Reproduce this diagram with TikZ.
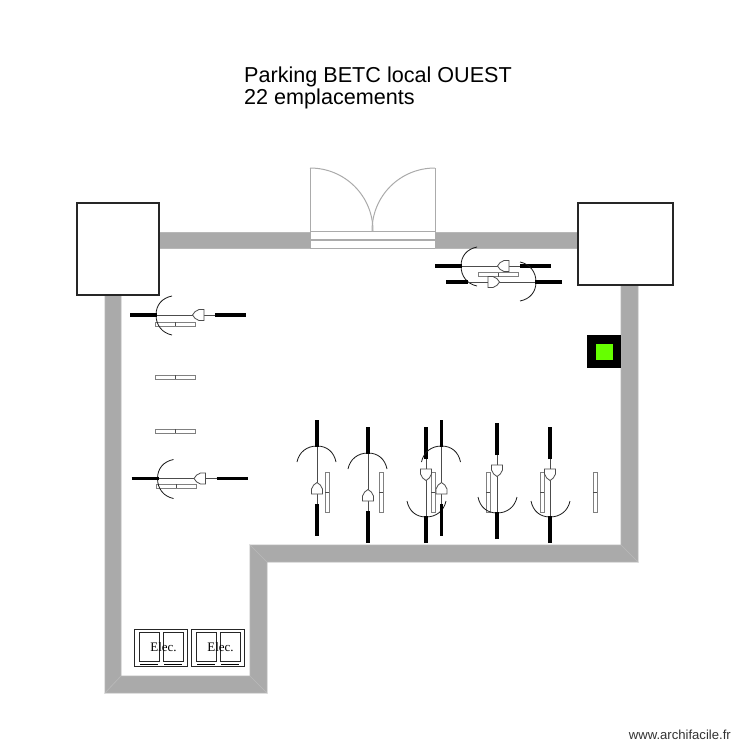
\documentclass[tikz,border=0pt]{standalone}
\usepackage{fontspec}
\setmainfont{Liberation Sans}
\newfontfamily\elecfont{Liberation Serif}
\tikzset{
  x=1pt,y=-1pt,
  wallseg/.style={fill=wallgrey,draw=walledge,line width=0.6pt},
  bigbox/.style={fill=white,draw=black!85,line width=1.5pt},
  doorline/.style={draw=doorgrey,line width=1pt},
  thinline/.style={draw=black!70,line width=0.8pt},
  thickbar/.style={draw=black,line width=3.2pt},
  rackbox/.style={draw=black!50,fill=white,line width=0.9pt},
  elecbox/.style={draw=black!85,line width=0.8pt},
  titletext/.style={anchor=base west,inner sep=0pt,font=\fontsize{21.6}{25}\selectfont},
  electext/.style={inner sep=0pt,font=\elecfont\fontsize{13}{15}\selectfont},
  marktext/.style={anchor=base east,inner sep=0pt,font=\fontsize{13.1}{15}\selectfont,text=black!80},
}
\definecolor{wallgrey}{HTML}{AAAAAA}
\definecolor{walledge}{HTML}{B8B8B8}
\definecolor{doorgrey}{HTML}{ABABAB}
\definecolor{screen}{HTML}{66FF00}
% bike: x, y, rotation, start of the lower bar
\newcommand{\bikeat}[4]{%
  \begin{scope}[shift={(#1,#2)},rotate=#3]
    \draw[thinline] (0,-48) -- (0,-11);
    \draw[thinline] (0,0) -- (0,#4);
    \draw[thinline,fill=white] (-5.5,0) -- (-5.5,-5) .. controls (-5,-8) and (-2,-10.5) .. (0,-11.5)
      .. controls (2,-10.5) and (5,-8) .. (5.5,-5) -- (5.5,0) -- cycle;
    \draw[thinline,black!90] (-20,-32) .. controls (-18,-42) and (-10,-48) .. (0,-48)
      .. controls (10,-48) and (17,-42) .. (19,-32);
    \draw[thickbar] (0,-74) -- (0,-47);
    \draw[thickbar] (0,#4) -- (0,42);
  \end{scope}}
\newcommand{\vrack}[1]{%
  \draw[rackbox] (#1,472) rectangle ++(4,40);
  \draw[thinline] (#1,492) -- ++(4,0);}
\newcommand{\hrack}[2]{%
  \draw[rackbox] (#1,#2) rectangle ++(40,4);
  \draw[thinline] (#1+20,#2) -- ++(0,4);}
\newcommand{\elecunit}[2]{%
  \draw[elecbox] (#1,629) rectangle ++(53,37);
  \draw[elecbox] (#1+5,632) rectangle ++(20,29);
  \draw[elecbox] (#1+29,632) rectangle ++(20,29);
  \draw[black,line width=1pt] (#1+6,664.5) -- ++(18,0) (#1+30,664.5) -- ++(18,0);
  \node[electext] (#2) at (#1+29.5,647) {Elec.};}
\begin{document}
\begin{tikzpicture}
\useasboundingbox (0,0) rectangle (750,750);
\fill[white] (0,0) rectangle (750,750);
% walls
\filldraw[wallseg] (105,295) -- (121,295) -- (121,676) -- (105,693) -- cycle;
\filldraw[wallseg] (105,693) -- (121,676) -- (250,676) -- (267,693) -- cycle;
\filldraw[wallseg] (250,676) -- (250,545) -- (267,562) -- (267,693) -- cycle;
\filldraw[wallseg] (250,545) -- (621,545) -- (638,562) -- (267,562) -- cycle;
\filldraw[wallseg] (621,285) -- (638,285) -- (638,562) -- (621,545) -- cycle;
\filldraw[wallseg] (159,232) -- (578,232) -- (578,248) -- (159,248) -- cycle;
% gate
\fill[white] (310,232) rectangle (435,248);
\draw[doorline] (310,168) -- (310,248) (435,168) -- (435,248);
\draw[doorline] (310,231.5) -- (435,231.5);
\draw[doorline,line width=1.8pt] (310,240) -- (435,240);
\draw[doorline] (310,248) -- (435,248);
\draw[doorline] (310,168) .. controls (345,168) and (373,196) .. (373,231);
\draw[doorline] (435,168) .. controls (400,168) and (372,196) .. (372,231);
% corner boxes
\draw[bigbox] (77,203) rectangle (159,295);
\draw[bigbox] (578,203) rectangle (673,285);
% green block
\fill[black] (587,335) rectangle (621,368);
\fill[screen] (596,344) rectangle (613,360);
% racks
\vrack{325}\vrack{379}\vrack{431}\vrack{486}\vrack{540}\vrack{593}
\hrack{155}{322}\hrack{155}{375}\hrack{155}{429}\hrack{156}{484}\hrack{478.5}{272.5}
% bikes
\bikeat{317}{494}{0}{10}
\bikeat{368}{501}{0}{10}
\bikeat{426}{469}{180}{10}
\bikeat{441.5}{494}{0}{10}
\bikeat{497}{465}{180}{10}
\bikeat{550}{469}{180}{10}
\bikeat{509}{266}{90}{11}
\bikeat{488}{282}{-90}{20}
\bikeat{204}{315}{90}{11}
\bikeat{205.5}{478.5}{90}{11}
% electrical cabinets
\elecunit{134}{eleca}
\elecunit{191}{elecb}
% texts
\node[titletext] (titlea) at (244,82) {Parking BETC local OUEST};
\node[titletext] (titleb) at (244,104) {22 emplacements};
\node[marktext] (mark) at (731,739.5) {www.archifacile.fr};
\end{tikzpicture}
\end{document}
